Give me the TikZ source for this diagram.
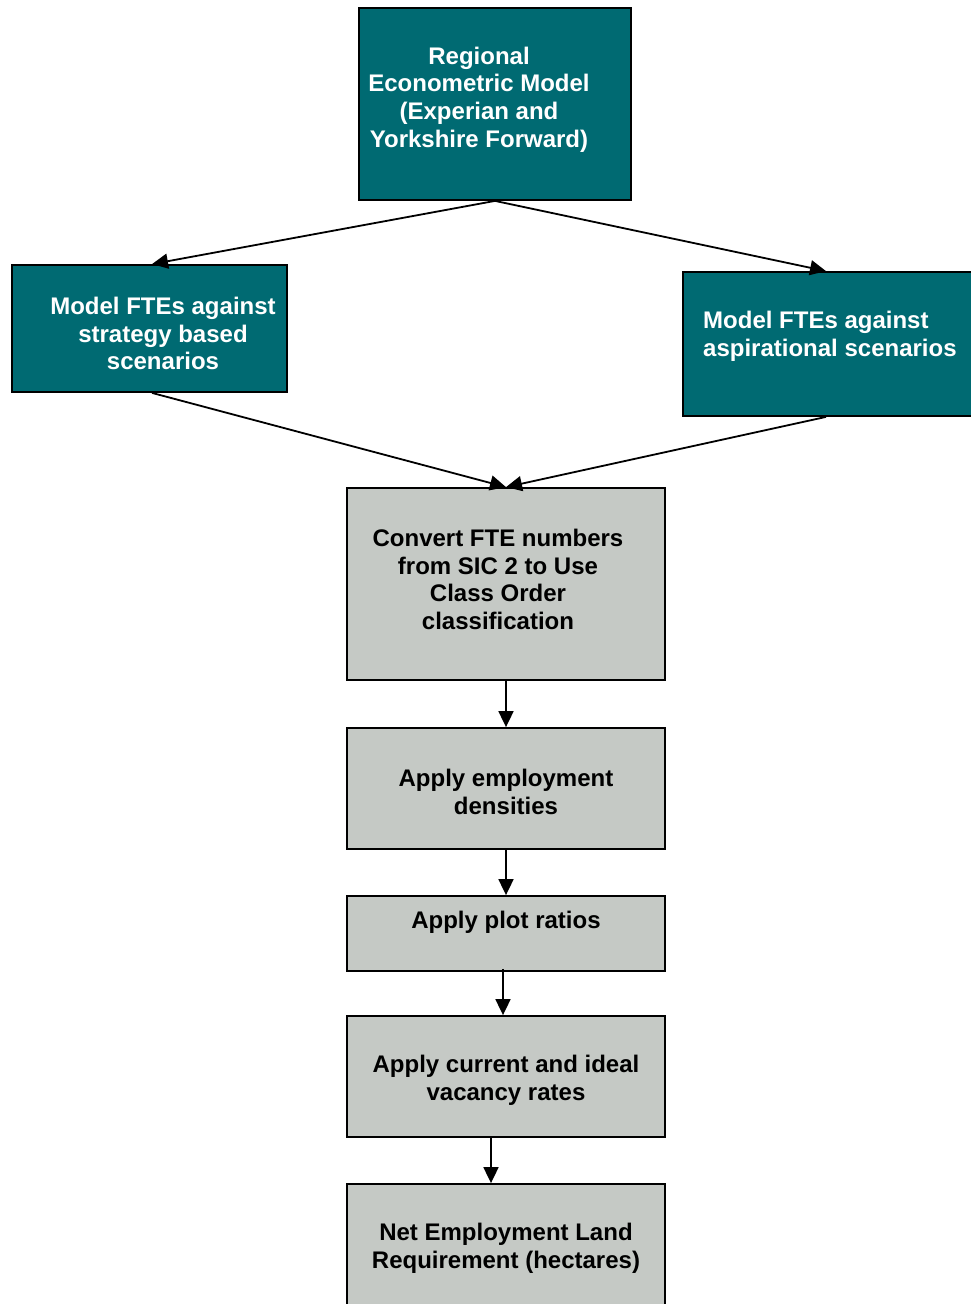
\documentclass[tikz,border=0pt]{standalone}
\usepackage{fontspec}
\setmainfont{Liberation Sans}
\usetikzlibrary{arrows.meta}
\definecolor{tealc}{RGB}{0,106,114}
\definecolor{greyc}{RGB}{197,201,197}
\tikzstyle{box} = [draw=black, line width=1.8pt, inner sep=0pt]
\tikzstyle{modelbox} = [box, fill=tealc]
\tikzstyle{stagebox} = [box, fill=greyc]
\tikzstyle{boxtext} = [
  font=\fontsize{24}{27.6}\selectfont\bfseries,
  align=center,
  inner sep=0pt,
]
\tikzstyle{flow} = [line width=1.8pt, -{Triangle[length=16pt,width=15pt]}]

\begin{document}
\begin{tikzpicture}[x=1pt, y=-1pt]
    \useasboundingbox (0,0) rectangle (970,1304);

    % Model boxes
    \node[modelbox, minimum width=272pt, minimum height=192pt] (regional) at (495,104) {};
    \node[modelbox, minimum width=275pt, minimum height=127pt] (strategy) at (149.5,328.5) {};
    \node[modelbox, minimum width=310pt, minimum height=144pt] (aspiration) at (838,344) {};

    \node[boxtext, text=white] (regionaltxt) at (479,99.5)
        {Regional\\Econometric Model\\(Experian and\\Yorkshire Forward)};
    \node[boxtext, text=white] (strategytxt) at (163,333.5)
        {Model FTEs against\\strategy based\\scenarios};
    \node[boxtext, text=white, anchor=west, align=left] (aspirationtxt) at (703,336)
        {Model FTEs against\\aspirational scenarios};

    % Stage boxes
    \node[stagebox, minimum width=318pt, minimum height=192pt] (convert) at (506,584) {};
    \node[stagebox, minimum width=318pt, minimum height=121pt] (density) at (506,788.5) {};
    \node[stagebox, minimum width=318pt, minimum height=75pt] (plot) at (506,933.5) {};
    \node[stagebox, minimum width=318pt, minimum height=121pt] (vacancy) at (506,1076.5) {};
    \node[stagebox, minimum width=318pt, minimum height=121pt] (net) at (506,1244.5) {};

    \node[boxtext] (converttxt) at (498,579.5)
        {Convert FTE numbers\\from SIC 2 to Use\\Class Order\\classification};
    \node[boxtext] (densitytxt) at (506,792) {Apply employment\\densities};
    \node[boxtext] (plottxt) at (506,922) {Apply plot ratios};
    \node[boxtext] (vacancytxt) at (506,1080) {Apply current and ideal\\vacancy rates};
    \node[boxtext] (nettxt) at (506,1248) {Net Employment Land\\Requirement (hectares)};

    % Arrows
    \draw[flow] (regional.south) -- ([xshift=2.5pt]strategy.north);
    \draw[flow] (regional.south) -- ([xshift=-12pt]aspiration.north);
    \draw[flow] ([xshift=2.5pt]strategy.south) -- (convert.north);
    \draw[flow] ([xshift=-12pt]aspiration.south) -- (convert.north);
    \draw[flow] (convert.south) -- (density.north);
    \draw[flow] (density.south) -- (plot.north);
    \draw[flow] ([xshift=-3pt, yshift=3pt]plot.south) -- ([xshift=-3pt]vacancy.north);
    \draw[flow] ([xshift=-15pt]vacancy.south) -- ([xshift=-15pt]net.north);
\end{tikzpicture}
\end{document}
